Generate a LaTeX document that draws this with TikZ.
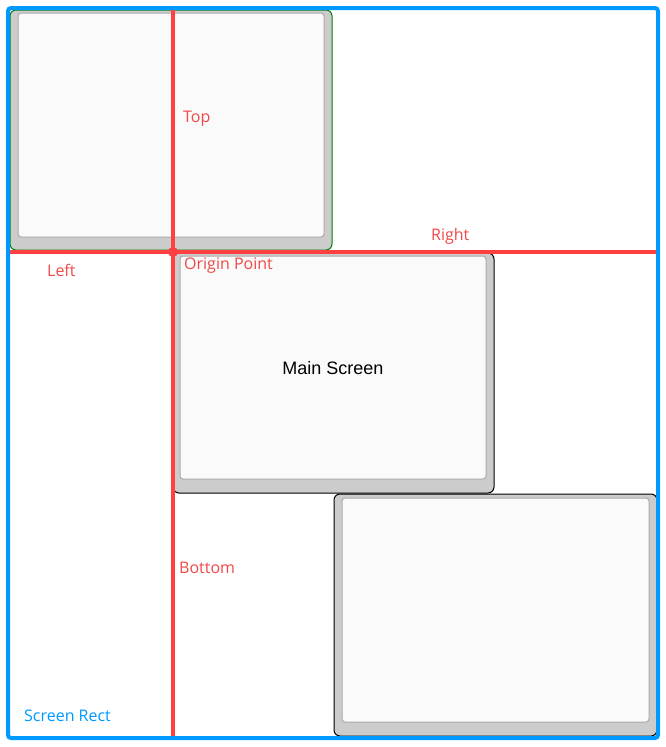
\documentclass[tikz,border=0pt]{standalone}
\usepackage{fontspec}
\setmainfont{Open Sans}
\newfontfamily\arialfont{Liberation Sans}
\definecolor{frameblue}{RGB}{0,153,255}
\definecolor{axisred}{RGB}{255,64,64}
\definecolor{labelred}{RGB}{240,72,72}
\definecolor{bezel}{RGB}{204,204,204}
\definecolor{panel}{RGB}{250,250,250}
\definecolor{panelline}{RGB}{170,170,170}
\definecolor{edgegreen}{RGB}{0,128,0}
\begin{document}
\begin{tikzpicture}[x=1pt,y=-1pt,
  monitor/.style={fill=bezel,rounded corners=6pt,line width=1pt},
  screenpanel/.style={fill=panel,draw=panelline,rounded corners=3pt,line width=1pt},
  axis/.style={draw=axisred,line width=4pt},
  redlabel/.style={text=labelred,font=\fontsize{16}{19}\selectfont,inner sep=0pt,anchor=west},
]
\useasboundingbox (0,0) rectangle (666,747);
% monitors
\draw[monitor,draw=edgegreen] (10,10) rectangle (332,250);
\draw[screenpanel] (18,13) rectangle (324,237);
\draw[monitor,draw=black] (173,253) rectangle (494,493);
\draw[screenpanel] (180,256) rectangle (486,479);
\draw[monitor,draw=black] (334,494) rectangle (657,736);
\draw[screenpanel] (342,498) rectangle (649,722);
\node[font=\arialfont\fontsize{18}{21}\selectfont,inner sep=0pt] (main) at (333,368) {Main Screen};
% screen rect
\draw[draw=frameblue,line width=4pt,rounded corners=3pt] (8,8) rectangle (658,738);
\node[text=frameblue,font=\fontsize{16}{19}\selectfont,inner sep=0pt,anchor=west] (srect) at (24,716) {Screen Rect};
% axes
\coordinate (o) at (173,252);
\coordinate (vt) at (173,10);
\coordinate (vb) at (173,736);
\coordinate (hl) at (10,252);
\coordinate (hr) at (656,252);
\draw[axis] (vt) -- (vb);
\draw[axis] (hl) -- (hr);
\fill[axisred] (o) circle (5pt);
% labels
\node[redlabel] (top) at (183,119) {Top};
\node[redlabel] (right) at (431,236) {Right};
\node[redlabel] (left) at (47,270) {Left};
\node[redlabel] (origin) at (184,266) {Origin Point};
\node[redlabel] (bottom) at (179,568) {Bottom};
\end{tikzpicture}
\end{document}
